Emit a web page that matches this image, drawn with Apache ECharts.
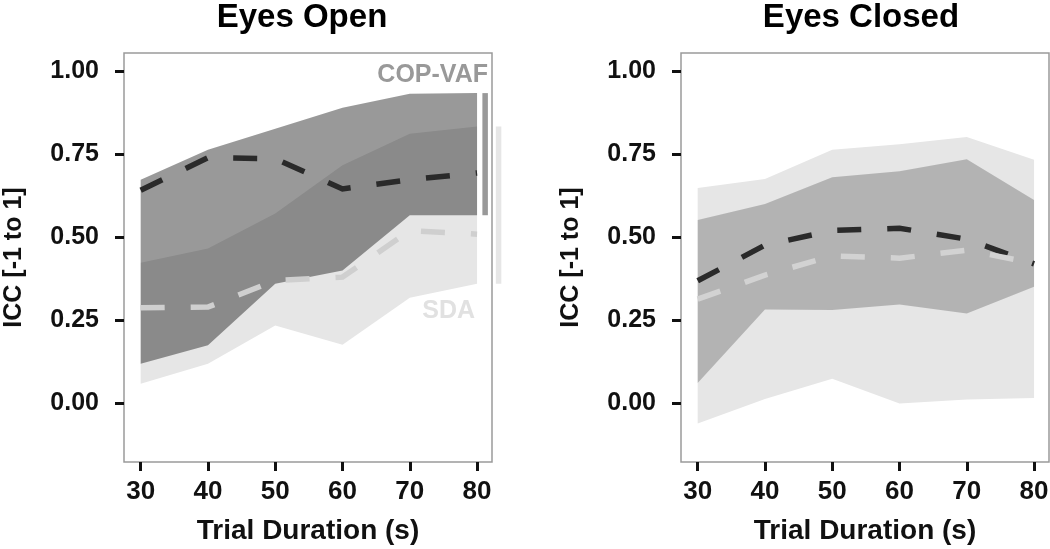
<!DOCTYPE html>
<html>
<head>
<meta charset="utf-8">
<script src="https://cdn.jsdelivr.net/npm/echarts@6/dist/echarts.min.js"></script>
<style>
html,body{margin:0;padding:0;background:#fff;}
#chart{width:1050px;height:549px;}
</style>
</head>
<body>
<div id="chart"></div>
<script>
// ---- data ----
const durations = [30, 40, 50, 60, 70, 80];
const xTicks = [30, 40, 50, 60, 70, 80];
const yTicks = [0, 0.25, 0.5, 0.75, 1.0];

// Eyes Open
const openCopMean = [0.641, 0.739, 0.736, 0.645, 0.673, 0.693];
const openCopLo   = [0.120, 0.175, 0.360, 0.400, 0.566, 0.566];
const openCopHi   = [0.673, 0.763, 0.826, 0.889, 0.931, 0.933];
const openSdaMean = [0.288, 0.290, 0.370, 0.380, 0.520, 0.509];
const openSdaLo   = [0.060, 0.120, 0.235, 0.177, 0.318, 0.360];
const openSdaHi   = [0.423, 0.466, 0.571, 0.716, 0.811, 0.833];

// Eyes Closed
const closedCopMean = [0.369, 0.476, 0.520, 0.527, 0.494, 0.420];
const closedCopLo   = [0.062, 0.283, 0.281, 0.298, 0.271, 0.351];
const closedCopHi   = [0.552, 0.600, 0.680, 0.698, 0.734, 0.612];
const closedSdaMean = [0.314, 0.386, 0.444, 0.437, 0.461, 0.422];
const closedSdaLo   = [-0.060, 0.014, 0.075, 0.000, 0.012, 0.017];
const closedSdaHi   = [0.648, 0.675, 0.763, 0.779, 0.801, 0.733];

const titles = ['Eyes Open', 'Eyes Closed'];
const legendNames = ['COP-VAF', 'SDA'];

// ---- styling helpers ----
const FONT = "'Liberation Sans', Arial, sans-serif";
const chart = echarts.init(document.getElementById('chart'), null, {renderer: 'canvas'});

function pairs(xs, ys) { return xs.map((x, i) => [x, ys[i]]); }

function band(idx, lo, hi, color, z) {
  return {
    type: 'custom', xAxisIndex: idx, yAxisIndex: idx, z: z, silent: true, clip: false,
    data: [[durations[0], lo[0]]],
    renderItem: function (params, api) {
      const pts = [];
      for (let i = 0; i < durations.length; i++) pts.push(api.coord([durations[i], hi[i]]));
      for (let i = durations.length - 1; i >= 0; i--) pts.push(api.coord([durations[i], lo[i]]));
      return {type: 'polygon', shape: {points: pts}, style: {fill: color}};
    }
  };
}

function dashed(idx, ys, color, z) {
  return {
    type: 'line', xAxisIndex: idx, yAxisIndex: idx, z: z, silent: true,
    data: pairs(durations, ys), symbol: 'none', smooth: false,
    lineStyle: {color: color, width: 5.5, type: [24, 26], cap: 'butt', join: 'miter'}
  };
}

function legendBar(idx, xPos, lo, hi, color) {
  return {
    type: 'custom', xAxisIndex: idx, yAxisIndex: idx, z: 5, silent: true, clip: false,
    data: [[xPos, lo, hi]],
    renderItem: function (params, api) {
      const p1 = api.coord([api.value(0), api.value(1)]);
      const p2 = api.coord([api.value(0), api.value(2)]);
      return {type: 'line', shape: {x1: p1[0], y1: p1[1], x2: p2[0], y2: p2[1]},
              style: {stroke: color, lineWidth: 5.5, lineCap: 'butt'}};
    }
  };
}

function xAxis(idx) {
  return {
    type: 'value', gridIndex: idx, min: 27.52, max: 82.22,
    name: 'Trial Duration (s)', nameLocation: 'middle', nameGap: 55,
    nameTextStyle: {fontFamily: FONT, fontWeight: 'bold', fontSize: 28, color: '#111'},
    axisLine: {show: false, onZero: false},
    splitLine: {show: false},
    axisTick: {show: true, customValues: xTicks, length: 9, inside: false, lineStyle: {color: '#111', width: 3}},
    axisLabel: {customValues: xTicks, margin: 17, fontFamily: FONT, fontWeight: 'bold', fontSize: 26, color: '#111',
      formatter: v => String(Math.round(v))}
  };
}

function yAxis(idx) {
  return {
    type: 'value', gridIndex: idx, min: -0.1755, max: 1.0535,
    name: 'ICC [-1 to 1]', nameLocation: 'middle', nameGap: 97, nameRotate: 90,
    nameTextStyle: {fontFamily: FONT, fontWeight: 'bold', fontSize: 25, color: '#111'},
    axisLine: {show: false, onZero: false},
    splitLine: {show: false},
    axisTick: {show: true, customValues: yTicks, length: 9, inside: false, lineStyle: {color: '#111', width: 3}},
    axisLabel: {customValues: yTicks, margin: 25, fontFamily: FONT, fontWeight: 'bold', fontSize: 25, color: '#111',
      formatter: v => v.toFixed(2)}
  };
}

const option = {
  animation: false,
  backgroundColor: '#fff',
  title: [
    {text: titles[0], left: 297, top: -4, textAlign: 'center',
     textStyle: {fontFamily: FONT, fontWeight: 'bold', fontSize: 33, color: '#000'}},
    {text: titles[1], left: 856, top: -4, textAlign: 'center',
     textStyle: {fontFamily: FONT, fontWeight: 'bold', fontSize: 33, color: '#000'}}
  ],
  grid: [
    {left: 124, top: 53, width: 368, height: 409, show: true, borderColor: '#9a9a9a', borderWidth: 1.5,
     backgroundColor: 'transparent', containLabel: false, outerBoundsMode: 'none'},
    {left: 681, top: 53, width: 368, height: 409, show: true, borderColor: '#9a9a9a', borderWidth: 1.5,
     backgroundColor: 'transparent', containLabel: false, outerBoundsMode: 'none'}
  ],
  xAxis: [xAxis(0), xAxis(1)],
  yAxis: [yAxis(0), yAxis(1)],
  graphic: [
    {type: 'text', x: 488, y: 75, z: 10,
     style: {text: legendNames[0], fill: '#999999', font: "bold 25px " + FONT, textAlign: 'right', textVerticalAlign: 'middle'}},
    {type: 'text', x: 475, y: 311, z: 10,
     style: {text: legendNames[1], fill: '#e1e1e1', font: "bold 25px " + FONT, textAlign: 'right', textVerticalAlign: 'middle'}}
  ],
  series: [
    band(0, openSdaLo, openSdaHi, '#e6e6e6', 1),
    band(0, openCopLo, openCopHi, 'rgba(0,0,0,0.40)', 2),
    dashed(0, openSdaMean, '#cfcfcf', 3),
    dashed(0, openCopMean, '#2a2a2a', 4),
    legendBar(0, 81.2, openCopLo[5], openCopHi[5], '#999999'),
    legendBar(0, 83.2, openSdaLo[5], openSdaHi[5], '#e6e6e6'),

    band(1, closedSdaLo, closedSdaHi, '#e6e6e6', 1),
    band(1, closedCopLo, closedCopHi, 'rgba(0,0,0,0.22)', 2),
    dashed(1, closedCopMean, '#2a2a2a', 3),
    dashed(1, closedSdaMean, '#d2d2d2', 4)
  ]
};
chart.setOption(option);
</script>
</body>
</html>
